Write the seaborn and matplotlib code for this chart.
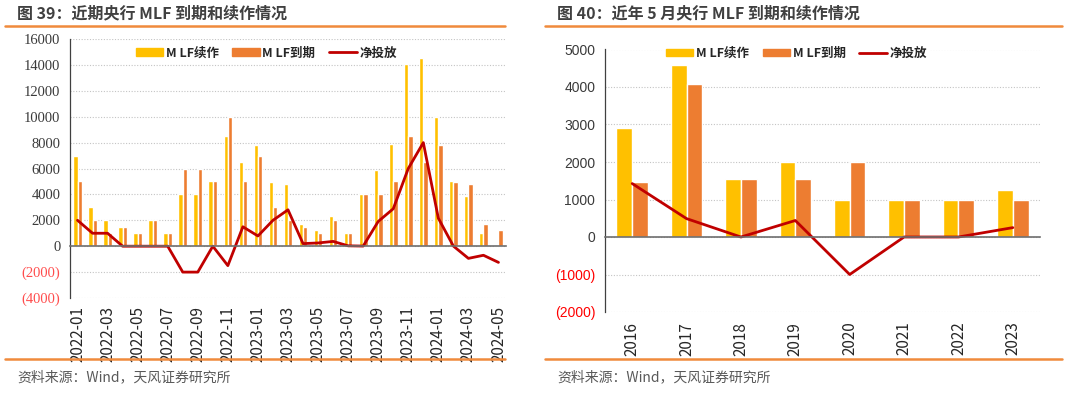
import numpy as np
import pandas as pd
import matplotlib
matplotlib.use("Agg")
import matplotlib.pyplot as plt
import seaborn as sns
from matplotlib.lines import Line2D
from matplotlib.patches import Patch

# 图39 monthly data (亿元)
months = ["2022-01", "2022-02", "2022-03", "2022-04", "2022-05", "2022-06",
          "2022-07", "2022-08", "2022-09", "2022-10", "2022-11", "2022-12",
          "2023-01", "2023-02", "2023-03", "2023-04", "2023-05", "2023-06",
          "2023-07", "2023-08", "2023-09", "2023-10", "2023-11", "2023-12",
          "2024-01", "2024-02", "2024-03", "2024-04", "2024-05"]
renew_m = [7000, 3000, 2000, 1500, 1000, 2000, 1000, 4000, 4000, 5000, 8500, 6500,
           7790, 4990, 4810, 1700, 1250, 2370, 1030, 4010, 5910, 7890, 14100, 14500,
           9950, 5000, 3870, 1000, 0]
expire_m = [5000, 2000, 1000, 1500, 1000, 2000, 1000, 6000, 6000, 5000, 10000, 5000,
            7000, 3000, 2000, 1500, 1000, 2000, 1000, 4000, 4000, 5000, 8500, 6500,
            7790, 4990, 4810, 1700, 1250]
net_m = [2000, 1000, 1000, 0, 0, 0, 0, -2000, -2000, 0, -1500, 1500,
         790, 2000, 2810, 200, 250, 370, 30, 10, 1910, 2890, 6000, 8000,
         2160, 10, -940, -700, -1250]

# 图40 May of each year
years = ["2016", "2017", "2018", "2019", "2020", "2021", "2022", "2023"]
renew_y = [2900, 4580, 1560, 2000, 1000, 1000, 1000, 1250]
expire_y = [1475, 4090, 1560, 1560, 2000, 1000, 1000, 1000]
net_y = [1425, 490, 0, 440, -1000, 0, 0, 250]

series = ["M LF续作", "M LF到期"]
YEL = "#FFC000"
ORG = "#ED7D31"
RED = "#C00000"
LINE_ORG = "#F08A3C"

sns.set_theme(style="white")
plt.rcParams["font.family"] = ["Noto Sans CJK SC", "DejaVu Sans"]


def long_df(cats, a, b, key):
    return pd.DataFrame({
        key: cats * 2,
        "value": a + b,
        "series": [series[0]] * len(cats) + [series[1]] * len(cats),
    })


def draw_panel(ax, cats, key, renew, expire, net, yticks, label_font, neg_color,
               tick_size, xlab_every, minor_pos, label_pad, x_size):
    df = long_df(cats, renew, expire, key)
    sns.barplot(data=df, x=key, y="value", hue="series", hue_order=series,
                palette=[YEL, ORG], width=0.58, saturation=1, gap=0,
                legend=False, ax=ax)
    sns.lineplot(x=cats, y=net, color=RED, lw=2, sort=False, estimator=None, ax=ax)
    ax.set_ylim(yticks[0], yticks[-1])
    ax.set_xlim(-0.5, len(cats) - 0.5)
    ax.set_xlabel("")
    ax.set_ylabel("")

    ax.set_yticks(yticks)
    labels = [f"({-v})" if v < 0 else f"{v}" for v in yticks]
    ax.set_yticklabels(labels, fontfamily=label_font, fontsize=tick_size)
    for t, v in zip(ax.get_yticklabels(), yticks):
        t.set_color(neg_color if v < 0 else "#3A3A3A")
    ax.tick_params(axis="y", direction="out", length=3, width=0.8, color="#404040", pad=4)

    ax.set_xticks(range(0, len(cats), xlab_every))
    ax.set_xticks(minor_pos, minor=True)
    ax.tick_params(axis="x", which="major", length=0, pad=label_pad, labelrotation=90)
    ax.tick_params(axis="x", which="minor", direction="out", length=4, width=0.8,
                   color="#505050")
    ax.set_xticklabels(cats[::xlab_every], fontfamily="Liberation Sans",
                       fontsize=x_size, color="#111111", rotation=90,
                       ha="center", va="top")

    ax.yaxis.grid(True, linestyle=(0, (1, 1.5)), color="#C4C4C4", lw=0.8)
    ax.set_axisbelow(True)
    for s in ["top", "right"]:
        ax.spines[s].set_visible(False)
    ax.spines["left"].set_color("#404040")
    ax.spines["left"].set_linewidth(0.9)
    ax.spines["bottom"].set_position(("data", 0))
    ax.spines["bottom"].set_color("#6E6E6E")
    ax.spines["bottom"].set_linewidth(1.2)


def add_legend(ax, anchor):
    handles = [Patch(color=YEL), Patch(color=ORG), Line2D([], [], color=RED, lw=2)]
    ax.legend(handles, series + ["净投放"], loc="center", bbox_to_anchor=anchor,
              ncol=3, frameon=True, facecolor="white", edgecolor="none", framealpha=1,
              prop={"weight": "bold", "size": 9}, handlelength=2.2, handleheight=0.55,
              handletextpad=0.2, columnspacing=1.1, borderpad=0.15)


fig = plt.figure(figsize=(10.8, 3.94), dpi=100)
W, H = 1080, 394

ax1 = fig.add_axes([70 / W, 1 - 298 / H, 436 / W, 259 / H])
draw_panel(ax1, months, "month", renew_m, expire_m, net_m,
           list(range(-4000, 16001, 2000)), "Liberation Serif", "#FF4D4D", 10.5,
           2, np.arange(1.5, 28.6, 2), 43, 8.5)
add_legend(ax1, (0.45, 0.946))

ax2 = fig.add_axes([605 / W, 1 - 312 / H, 435 / W, 262.5 / H])
draw_panel(ax2, years, "year", renew_y, expire_y, net_y,
           list(range(-2000, 5001, 1000)), "Liberation Sans", "#FF0000", 10,
           1, np.arange(0.5, 7.6, 1), 61, 8.5)
add_legend(ax2, (0.44, 0.985))

# titles, separators, sources
for x0, x1, title in [(5, 505, "图 39：近期央行 MLF 到期和续作情况"),
                      (545, 1062, "图 40：近年 5 月央行 MLF 到期和续作情况")]:
    fig.text((x0 + 12) / W, 1 - 13 / H, title, fontsize=11.5, fontweight="bold",
             color="#404040", va="center", ha="left")
    fig.add_artist(Line2D([x0 / W, x1 / W], [1 - 26 / H] * 2, color=LINE_ORG, lw=1.8))
    fig.add_artist(Line2D([x0 / W, x1 / W], [1 - 359 / H] * 2, color=LINE_ORG, lw=1.8))
    fig.text((x0 + 12) / W, 1 - 377 / H, "资料来源：Wind，天风证券研究所", fontsize=10,
             color="#595959", va="center", ha="left")

fig.savefig("out.png", dpi=100)
